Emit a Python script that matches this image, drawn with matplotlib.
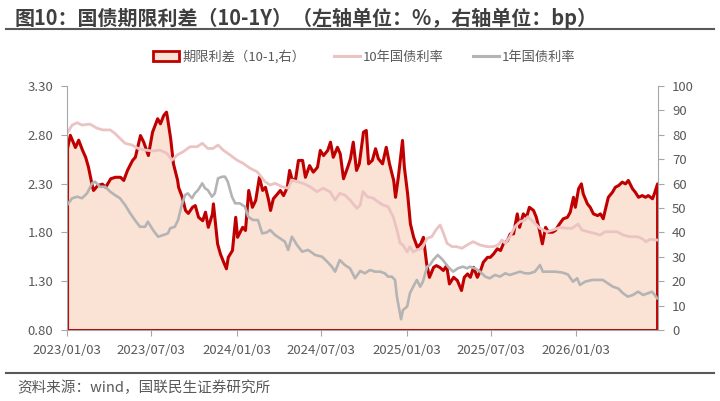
import numpy as np
import pandas as pd
import matplotlib
matplotlib.use('Agg')
import matplotlib.pyplot as plt
from matplotlib.patches import Patch
from matplotlib.lines import Line2D

plt.rcParams['font.family'] = ['Noto Sans CJK SC', 'DejaVu Sans']

start = pd.Timestamp('2023-01-03')

# 期限利差（10-1，右轴，bp）: days after 2023/01/03 and values
spread_day = [0, 6, 17, 24, 32, 39, 45, 54, 56, 65, 75, 82, 93, 103, 114, 121, 129, 140, 146, 157,
              164, 174, 183, 194, 200, 207, 213, 215, 222, 228, 237, 239, 247, 254, 260, 269, 275, 282, 291, 297,
              303, 312, 314, 323, 329, 336, 342, 346, 355, 362, 366, 377, 383, 390, 398, 405, 413, 420, 426, 433,
              437, 443, 452, 458, 465, 473, 478, 484, 491, 497, 506, 512, 521, 529, 538, 544, 551, 560, 566, 572,
              581, 587, 594, 603, 609, 615, 622, 628, 637, 643, 648, 656, 663, 669, 678, 686, 693, 702, 706, 712,
              721, 725, 732, 738, 745, 753, 760, 766, 773, 779, 788, 794, 801, 809, 816, 822, 831, 839, 848, 854,
              861, 867, 874, 882, 889, 895, 904, 910, 917, 925, 932, 938, 947, 953, 960, 968, 973, 981, 988, 994,
              1003, 1009, 1016, 1022, 1029, 1035, 1044, 1050, 1059, 1067, 1076, 1082, 1089, 1093, 1100, 1106, 1110, 1119, 1125, 1132,
              1141, 1147, 1153, 1158, 1164, 1173, 1179, 1186, 1194, 1201, 1207, 1216, 1222, 1229, 1237, 1244, 1250, 1259, 1263, 1270]
spread_bp = [74.6, 80.0, 75.0, 78.0, 74.0, 71.0, 67.0, 58.7, 57.4, 59.4, 60.0, 58.7, 62.2, 62.8, 62.8, 61.5, 65.6, 69.7, 71.0, 79.9,
             77.2, 71.7, 81.3, 86.8, 84.7, 88.1, 89.5, 87.4, 78.6, 68.3, 61.5, 58.7, 54.6, 49.2, 48.0, 50.5, 51.2, 46.4, 45.0, 48.5,
             42.3, 47.8, 51.9, 35.5, 31.4, 28.0, 25.3, 30.0, 32.8, 46.4, 38.2, 42.3, 41.0, 57.4, 50.5, 53.3, 62.8, 57.4, 58.7, 53.3,
             49.2, 54.0, 56.0, 57.4, 55.3, 58.7, 65.6, 61.5, 62.2, 69.7, 69.7, 62.8, 67.6, 64.9, 66.9, 73.8, 71.7, 73.8, 77.2, 71.0,
             75.1, 72.4, 62.2, 66.9, 70.4, 77.2, 65.6, 68.3, 81.3, 82.0, 68.3, 69.7, 74.5, 70.4, 68.3, 75.1, 68.3, 61.5, 54.6, 62.8,
             77.9, 66.9, 56.0, 43.7, 38.2, 34.1, 35.5, 38.2, 27.3, 21.8, 25.9, 26.6, 25.9, 24.6, 26.6, 19.1, 21.8, 20.5, 16.4, 21.8,
             23.2, 21.8, 25.9, 21.8, 24.6, 28.0, 30.0, 30.0, 31.4, 33.5, 32.8, 35.5, 36.9, 39.6, 39.6, 47.8, 42.3, 47.8, 46.4, 50.5,
             49.2, 46.4, 41.0, 35.5, 42.3, 40.3, 40.3, 41.0, 43.7, 45.8, 46.4, 48.5, 54.6, 50.5, 58.1, 60.1, 56.0, 51.9, 50.5, 47.8,
             47.1, 47.8, 45.8, 49.9, 54.6, 56.7, 58.7, 59.4, 60.8, 60.1, 61.5, 58.1, 56.7, 54.6, 55.3, 54.6, 55.3, 54.0, 56.0, 60.1]

# 10年国债利率（左轴，%）
y10_day = [0, 11, 22, 32, 49, 65, 77, 93, 103, 114, 125, 140, 153, 168, 183, 200, 215, 226, 237, 250,
           265, 280, 291, 303, 314, 325, 336, 351, 366, 379, 394, 409, 415, 426, 437, 448, 463, 476, 484, 495,
           508, 523, 538, 551, 566, 577, 587, 598, 609, 624, 631, 637, 646, 659, 669, 680, 691, 702, 710, 717,
           723, 732, 738, 745, 753, 764, 775, 785, 794, 803, 809, 818, 829, 839, 850, 861, 874, 889, 904, 917,
           928, 936, 943, 953, 964, 975, 986, 992, 1003, 1018, 1033, 1046, 1061, 1076, 1087, 1100, 1108, 1121, 1136, 1147,
           1158, 1169, 1184, 1197, 1212, 1227, 1237, 1246, 1255, 1270]
y10 = [2.815, 2.90, 2.924, 2.90, 2.91, 2.867, 2.85, 2.85, 2.815, 2.764, 2.713, 2.695, 2.66, 2.644, 2.634, 2.644, 2.61, 2.54, 2.593, 2.627,
       2.678, 2.678, 2.713, 2.66, 2.66, 2.695, 2.644, 2.593, 2.54, 2.508, 2.457, 2.422, 2.388, 2.32, 2.286, 2.303, 2.268, 2.252, 2.337, 2.32,
       2.303, 2.268, 2.217, 2.252, 2.217, 2.132, 2.20, 2.183, 2.132, 2.047, 2.081, 2.22, 2.166, 2.15, 2.115, 2.081, 2.063, 1.961, 1.825, 1.688,
       1.671, 1.60, 1.654, 1.60, 1.62, 1.637, 1.74, 1.756, 1.825, 1.876, 1.807, 1.688, 1.654, 1.654, 1.637, 1.671, 1.705, 1.671, 1.654, 1.654,
       1.671, 1.722, 1.688, 1.756, 1.858, 1.91, 1.927, 1.961, 1.91, 1.842, 1.807, 1.825, 1.85, 1.842, 1.842, 1.886, 1.825, 1.807, 1.79, 1.773,
       1.807, 1.807, 1.807, 1.773, 1.756, 1.756, 1.739, 1.705, 1.73, 1.722]

# 1年国债利率（左轴，%）
y1_day = [0, 11, 22, 32, 43, 54, 60, 71, 82, 93, 103, 114, 125, 136, 146, 157, 168, 174, 185, 196,
          207, 217, 222, 232, 239, 247, 254, 260, 269, 275, 282, 291, 297, 303, 312, 318, 325, 334, 340, 346,
          355, 362, 372, 383, 390, 400, 411, 420, 430, 437, 448, 458, 469, 476, 484, 495, 506, 519, 534, 549,
          560, 570, 577, 587, 598, 609, 620, 631, 641, 652, 663, 674, 684, 691, 699, 706, 710, 714, 719, 723,
          732, 738, 745, 753, 760, 766, 775, 781, 788, 798, 809, 820, 831, 841, 852, 861, 867, 878, 889, 900,
          910, 921, 932, 943, 953, 964, 975, 986, 996, 1007, 1018, 1024, 1035, 1050, 1065, 1078, 1089, 1098, 1104, 1115,
          1130, 1143, 1153, 1164, 1175, 1186, 1197, 1207, 1218, 1229, 1240, 1250, 1259, 1265, 1270]
y1 = [2.081, 2.15, 2.166, 2.15, 2.20, 2.303, 2.32, 2.268, 2.268, 2.217, 2.183, 2.15, 2.081, 1.996, 1.927, 1.858, 1.858, 1.91, 1.825, 1.756,
      1.773, 1.79, 1.842, 1.858, 1.927, 2.081, 2.183, 2.20, 2.15, 2.20, 2.234, 2.303, 2.252, 2.234, 2.166, 2.20, 2.354, 2.371, 2.371, 2.32,
      2.166, 2.098, 2.098, 2.063, 1.961, 1.927, 1.927, 1.79, 1.80, 1.825, 1.773, 1.74, 1.705, 1.62, 1.756, 1.671, 1.603, 1.62, 1.569, 1.551,
      1.50, 1.449, 1.398, 1.517, 1.466, 1.432, 1.33, 1.405, 1.381, 1.415, 1.398, 1.398, 1.381, 1.347, 1.347, 1.313, 1.142, 1.04, 0.91, 1.005,
      1.04, 1.176, 1.244, 1.313, 1.244, 1.295, 1.449, 1.466, 1.517, 1.569, 1.517, 1.449, 1.398, 1.432, 1.449, 1.432, 1.449, 1.432, 1.398, 1.347,
      1.33, 1.364, 1.347, 1.381, 1.364, 1.381, 1.398, 1.381, 1.381, 1.398, 1.466, 1.398, 1.398, 1.398, 1.39, 1.37, 1.295, 1.33, 1.262, 1.295,
      1.313, 1.313, 1.313, 1.278, 1.244, 1.227, 1.176, 1.142, 1.159, 1.193, 1.159, 1.176, 1.193, 1.159, 1.125]

tick_dates = ['2023-01-03', '2023-07-03', '2024-01-03', '2024-07-03', '2025-01-03', '2025-07-03', '2026-01-03']
left_ticks = [0.80, 1.30, 1.80, 2.30, 2.80, 3.30]
right_ticks = [0, 10, 20, 30, 40, 50, 60, 70, 80, 90, 100]

def to_dates(days):
    return start + pd.to_timedelta(days, unit='D')

txt = '#595959'
axis_gray = '#A6A6A6'
fill_col = '#FAE2D5'
red = '#C00000'
pink = '#EBC3C3'
gray = '#B4B4B4'

fig = plt.figure(figsize=(7.2, 4.01), dpi=100)
ax2 = fig.add_axes([0.0931, 0.177, 0.8208, 0.6085])
ax1 = ax2.twinx()
# left-axis lines drawn above the area
ax1.yaxis.tick_left()
ax1.yaxis.set_label_position('left')
ax2.yaxis.tick_right()
ax2.yaxis.set_label_position('right')
ax1.set_zorder(2)
ax1.patch.set_visible(False)
ax2.set_zorder(1)

ax2.fill_between(to_dates(spread_day), 0, spread_bp, facecolor=fill_col,
                 edgecolor=red, linewidth=2.2, joinstyle='round')
ax1.plot(to_dates(y10_day), y10, color=pink, lw=2.0, solid_joinstyle='round')
ax1.plot(to_dates(y1_day), y1, color=gray, lw=1.9, solid_joinstyle='round')

xmin = start
xmax = start + pd.Timedelta(days=1272)
ax1.set_xlim(xmin, xmax)
ax2.set_xlim(xmin, xmax)
ax1.set_ylim(0.80, 3.30)
ax2.set_ylim(0, 100)

ax2.set_xticks(pd.to_datetime(tick_dates))
ax2.set_xticklabels([d.replace('-', '/') for d in tick_dates])
ax1.set_yticks(left_ticks)
ax1.set_yticklabels(['%.2f' % v for v in left_ticks])
ax2.set_yticks(right_ticks)
ax2.set_yticklabels([str(v) for v in right_ticks])

for ax in (ax1, ax2):
    for s in ax.spines.values():
        s.set_visible(False)
ax1.spines['left'].set_visible(True)
ax1.spines['left'].set_color(axis_gray)
ax2.spines['right'].set_visible(True)
ax2.spines['right'].set_color(axis_gray)
ax2.spines['bottom'].set_visible(True)
ax2.spines['bottom'].set_color(axis_gray)

ax1.tick_params(axis='y', colors=axis_gray, labelcolor=txt, labelsize=9.5, length=4, pad=6)
ax2.tick_params(axis='y', colors=axis_gray, labelcolor=txt, labelsize=9.5, length=4, pad=6)
ax2.tick_params(axis='x', colors=axis_gray, labelcolor=txt, labelsize=9.5, length=4, pad=6)
ax1.tick_params(axis='x', bottom=False, labelbottom=False, top=False, labeltop=False)

fig.text(0.020, 0.955, '图10：国债期限利差（10-1Y）（左轴单位：%，右轴单位：bp）',
         fontsize=14.4, fontweight='bold', color='#3F3F3F', va='center', ha='left')
fig.add_artist(Line2D([0.008, 0.992], [0.928, 0.928], color='#595959', lw=1.5))
fig.add_artist(Line2D([0.008, 0.992], [0.070, 0.070], color='#595959', lw=1.5))
fig.text(0.024, 0.032, '资料来源：wind，国联民生证券研究所', fontsize=10.5, color=txt,
         va='center', ha='left')

handles = [Patch(facecolor=fill_col, edgecolor=red, linewidth=2),
           Line2D([], [], color=pink, lw=2.2),
           Line2D([], [], color=gray, lw=2.2)]
labels = ['期限利差（10-1,右）', '10年国债利率', '1年国债利率']
fig.legend(handles, labels, loc='center', bbox_to_anchor=(0.506, 0.858), ncol=3,
           frameon=False, fontsize=9.5, labelcolor=txt, handlelength=2.0,
           handleheight=0.8, handletextpad=0.2, columnspacing=2.2)

fig.savefig('out.png', dpi=100)
